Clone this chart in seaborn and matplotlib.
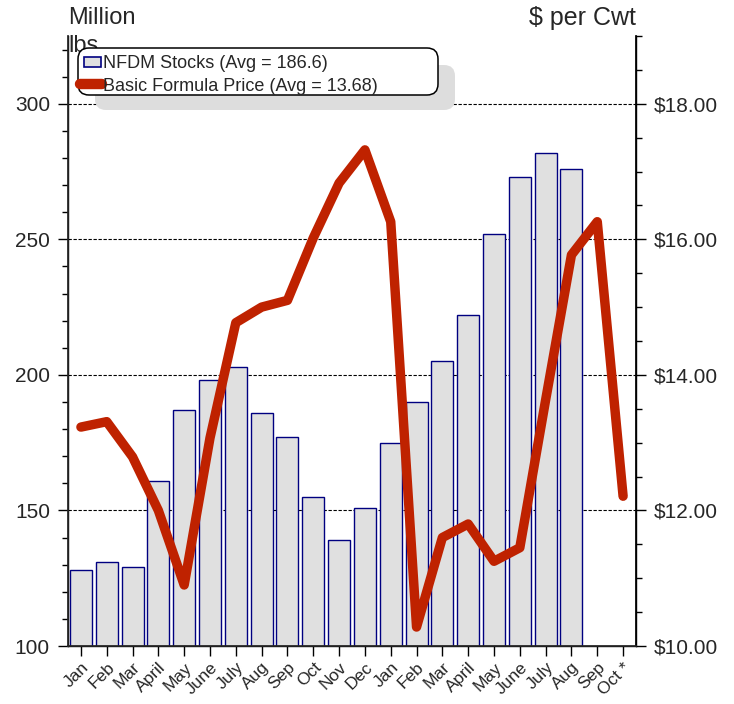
import pandas as pd
import matplotlib
matplotlib.use("Agg")
import matplotlib.pyplot as plt
from matplotlib.lines import Line2D
from matplotlib.patches import Patch, Rectangle, FancyBboxPatch
from matplotlib.legend_handler import HandlerPatch
from matplotlib.transforms import IdentityTransform
from matplotlib.ticker import MultipleLocator, FuncFormatter
import seaborn as sns

# datos
meses = ["Jan", "Feb", "Mar", "April", "May", "June", "July", "Aug", "Sep", "Oct",
         "Nov", "Dec", "Jan", "Feb", "Mar", "April", "May", "June", "July", "Aug",
         "Sep", "Oct *"]
stocks = [128, 131, 129, 161, 187, 198, 203, 186, 177, 155, 139, 151,
          175, 190, 205, 222, 252, 273, 282, 276, None, None]
precio = [13.23, 13.31, 12.79, 12.00, 10.90, 13.07, 14.77, 15.00, 15.10, 16.02,
          16.83, 17.32, 16.26, 10.28, 11.60, 11.80, 11.25, 11.45, 13.63, 15.77,
          16.26, 12.21]

df = pd.DataFrame({"pos": range(len(meses)), "mes": meses,
                   "stocks": stocks, "precio": precio})

sns.set_theme(style="ticks")
plt.rcParams["font.family"] = ["Liberation Sans", "DejaVu Sans"]

W, H = 734, 704
fig = plt.figure(figsize=(W / 100, H / 100), dpi=100)
ax = fig.add_axes([68 / W, 58 / H, 568 / W, 610 / H])

# barras de inventario
sns.barplot(data=df.dropna(subset=["stocks"]), x="pos", y="stocks",
            order=list(range(len(meses))), ax=ax, color="#E0E0E0",
            edgecolor="#000080", linewidth=1.0, width=0.85, saturation=1, zorder=2)

ax.set_ylim(100, 325)
ax.set_xlim(-0.5, len(meses) - 0.5)
ax.set_yticks([100, 150, 200, 250, 300])
ax.yaxis.set_minor_locator(MultipleLocator(10))
ax.set_xticks(range(len(meses)))
ax.set_xticklabels(meses, rotation=45, ha="right", rotation_mode="anchor", fontsize=12.5)
ax.set_xlabel("")
ax.set_ylabel("")
for y in [150, 200, 250, 300]:
    ax.axhline(y, color="black", lw=0.8, ls=(0, (3, 1.5)), zorder=1)
ax.tick_params(axis="y", which="major", length=7, width=1, labelsize=15, pad=6, color="black")
ax.tick_params(axis="y", which="minor", length=4, width=1, color="black")
ax.tick_params(axis="x", which="major", length=7, width=1, pad=3, color="black")
ax.spines["top"].set_visible(False)
for s in ["left", "bottom", "right"]:
    ax.spines[s].set_color("black")
    ax.spines[s].set_linewidth(1)

# linea de precio en eje derecho
ax2 = ax.twinx()
sns.lineplot(data=df, x="pos", y="precio", ax=ax2, color="#BF2200", lw=6.8,
             solid_joinstyle="round", solid_capstyle="round", zorder=5)
ax2.set_ylim(10, 19)
ax2.set_xlim(-0.5, len(meses) - 0.5)
ax2.set_yticks([10, 12, 14, 16, 18])
ax2.yaxis.set_minor_locator(MultipleLocator(0.5))
ax2.yaxis.set_major_formatter(FuncFormatter(lambda v, p: f"${v:.2f}"))
ax2.set_ylabel("")
ax2.tick_params(axis="y", which="major", length=7, width=1, labelsize=15, pad=6, color="black")
ax2.tick_params(axis="y", which="minor", length=4, width=1, color="black")
ax2.spines["top"].set_visible(False)
ax2.spines["right"].set_color("black")

# titulos de los ejes
fig.text(68 / W, 1 - 7 / H, "Million\nlbs", ha="left", va="top", fontsize=17,
         linespacing=1.38, zorder=1)
fig.text(636 / W, 1 - 6 / H, "$ per Cwt", ha="right", va="top", fontsize=18)

# caja de leyenda con sombra (coordenadas en pixeles)
sombra = FancyBboxPatch((95, H - 110), 360, 45, boxstyle="round,pad=0,rounding_size=11",
                        transform=IdentityTransform(), facecolor="#DDDDDD",
                        edgecolor="none", zorder=1.5)
caja = FancyBboxPatch((78, H - 95), 360, 47, boxstyle="round,pad=0,rounding_size=11",
                      transform=IdentityTransform(), facecolor="white",
                      edgecolor="black", linewidth=1.1, zorder=2)
fig.patches.extend([sombra, caja])


def rect_chico(legend, orig_handle, xdescent, ydescent, width, height, fontsize):
    return Rectangle((-xdescent + 0.2 * width, -ydescent + 0.05 * height),
                     0.75 * width, 0.8 * height)


handles = [Patch(facecolor="#E0E0E0", edgecolor="#000080", linewidth=1.2),
           Line2D([0], [0], color="#BF2200", lw=7.5, solid_capstyle="round")]
etiquetas = ["NFDM Stocks (Avg = 186.6)", "Basic Formula Price (Avg = 13.68)"]
leg = fig.legend(handles, etiquetas, loc="upper left", bbox_to_anchor=(80, H - 55),
                 bbox_transform=IdentityTransform(), borderaxespad=0, borderpad=0,
                 fontsize=13, frameon=False, handlelength=1.2, handletextpad=0.1,
                 labelspacing=0.32, handler_map={Patch: HandlerPatch(patch_func=rect_chico)})
leg.set_zorder(5)

fig.savefig("out.png", dpi=100)
